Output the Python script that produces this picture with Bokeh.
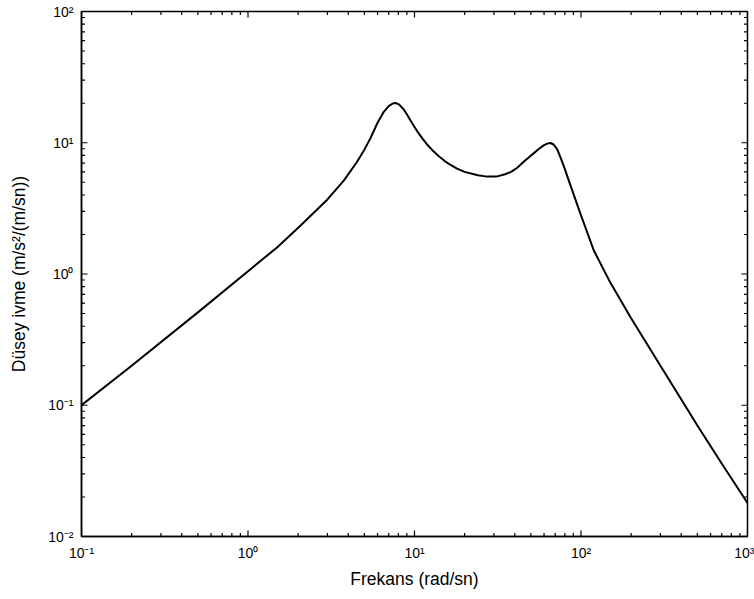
import math
from bokeh.plotting import figure
from bokeh.models import Range1d
from bokeh.embed import file_html
from bokeh.resources import INLINE

# Frequency (rad/sn) and vertical acceleration magnitude
freq = [0.1, 0.2, 0.5, 1.0, 1.5, 2.07, 3.0, 3.76, 4.5, 5.0, 5.44, 6.0, 6.54, 7.0, 7.4, 7.7,
        8.1, 8.6, 9.0, 9.46, 10.0, 10.5, 11.2, 11.9, 13.0, 14.0, 15.2, 16.4, 18.0, 20.0,
        24.0, 27.3, 31.0, 35.0, 38.0, 41.4, 46.0, 51.9, 56.0, 60.0, 62.7, 65.5, 68.5,
        72.0, 76.0, 80.0, 82.6, 90.0, 100.0, 119.4, 150.0, 200.0, 300.0, 500.0, 700.0, 1000.0]
accel = [0.1, 0.2, 0.51, 1.05, 1.6, 2.34, 3.7, 5.14, 7.1, 8.86, 10.85, 14.2, 17.2, 19.0, 19.9, 20.1,
         19.5, 18.0, 16.5, 14.8, 13.2, 12.0, 10.7, 9.7, 8.6, 7.9, 7.25, 6.8, 6.35, 6.0,
         5.65, 5.52, 5.52, 5.75, 6.0, 6.45, 7.3, 8.3, 9.0, 9.6, 9.85, 9.95, 9.7,
         8.9, 7.5, 6.3, 5.6, 4.1, 2.8, 1.51, 0.86, 0.46, 0.2, 0.07, 0.036, 0.018]

x_ticks = [0.1, 1, 10, 100, 1000]
x_labels = ["10⁻¹", "10⁰", "10¹", "10²", "10³"]
y_ticks = [0.01, 0.1, 1, 10, 100]
y_labels = ["10⁻²", "10⁻¹", "10⁰", "10¹", "10²"]

FONT = "Liberation Sans"

p = figure(frame_width=666, frame_height=525,
           x_axis_type="log", y_axis_type="log",
           x_range=Range1d(0.1, 1000), y_range=Range1d(0.01, 100),
           output_backend="svg", toolbar_location=None,
           min_border_left=81, min_border_right=7,
           min_border_top=11, min_border_bottom=63)

p.background_fill_color = "white"
p.border_fill_color = "white"
p.outline_line_color = "black"
p.outline_line_width = 1.5
p.xgrid.visible = False
p.ygrid.visible = False

p.line(freq, accel, line_color="black", line_width=2)

# inward ticks on all four sides (markers centred on the frame edge, half clipped)
minor_x = [t * k for t in x_ticks[:-1] for k in range(2, 10)]
minor_y = [t * k for t in y_ticks[:-1] for k in range(2, 10)]
ymin, ymax = y_ticks[0], y_ticks[-1]
xmin, xmax = x_ticks[0], x_ticks[-1]
for xs, size in ((x_ticks, 12), (minor_x, 7)):
    for edge in (ymin, ymax):
        p.scatter(xs, [edge] * len(xs), marker="dash", size=size, angle=math.pi / 2,
                  line_color="black", line_width=1.2)
for ys, size in ((y_ticks, 12), (minor_y, 7)):
    for edge in (xmin, xmax):
        p.scatter([edge] * len(ys), ys, marker="dash", size=size,
                  line_color="black", line_width=1.2)

for ax, ticks, labels in ((p.xaxis[0], x_ticks, x_labels), (p.yaxis[0], y_ticks, y_labels)):
    ax.ticker = ticks
    ax.major_label_overrides = {t: l for t, l in zip(ticks, labels)}
    ax.major_tick_in = 0
    ax.major_tick_out = 0
    ax.minor_tick_in = 0
    ax.minor_tick_out = 0
    ax.axis_line_color = "black"
    ax.axis_line_width = 1.5
    ax.major_label_text_font = FONT
    ax.major_label_text_font_size = "14px"
    ax.major_label_text_color = "black"
    ax.major_label_standoff = 8
    ax.axis_label_text_font = FONT
    ax.axis_label_text_font_size = "17.5px"
    ax.axis_label_text_font_style = "normal"
    ax.axis_label_text_color = "black"

p.xaxis[0].axis_label = "Frekans (rad/sn)"
p.yaxis[0].axis_label = "Düsey ivme (m/s²/(m/sn))"
p.xaxis[0].axis_label_standoff = 5
p.yaxis[0].axis_label_standoff = 16

open("out.html", "w").write(file_html(p, INLINE))
